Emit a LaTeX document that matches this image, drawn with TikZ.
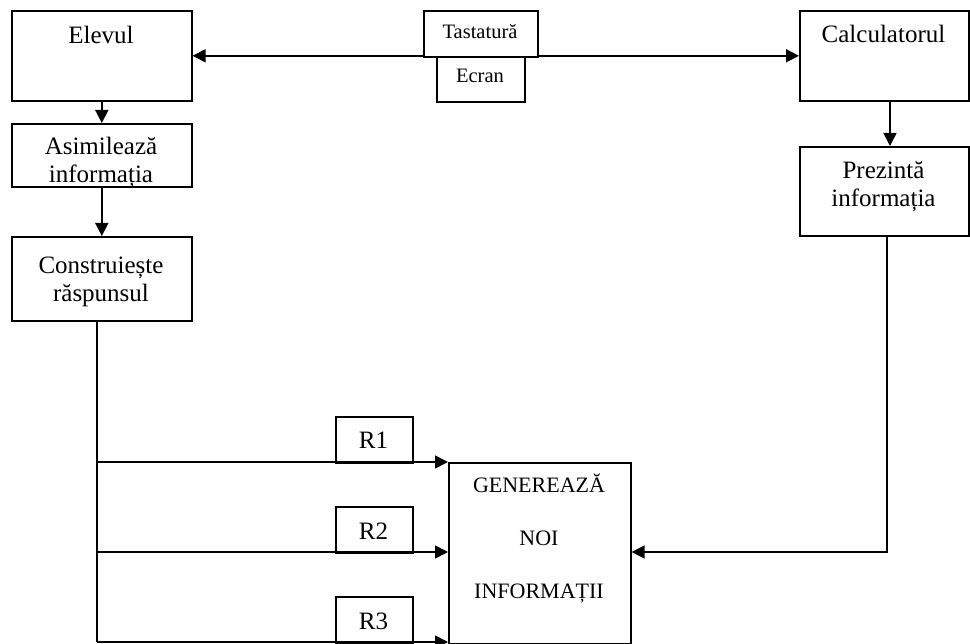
\documentclass[tikz,border=0pt]{standalone}
\usepackage{fontspec}
\setmainfont{Liberation Serif}
\usetikzlibrary{arrows.meta,calc}
\begin{document}
\begin{tikzpicture}[x=1pt,y=-1pt,
  box/.style={draw,line width=1.6pt,rectangle,inner sep=0pt,anchor=north west},
  txt/.style={font=\fontsize{25}{28}\selectfont,inner sep=0pt,anchor=base,align=center},
  smalltxt/.style={font=\fontsize{20.5}{24}\selectfont,inner sep=0pt,anchor=base},
  tip/.style={},
  conn/.style={line width=1.6pt,-{Triangle[length=13pt,width=13pt]}},
  conn2/.style={line width=1.6pt,{Triangle[length=13pt,width=13pt]}-{Triangle[length=13pt,width=13pt]}},
  plain/.style={line width=1.6pt}]
\useasboundingbox (0,0) rectangle (970,644);
% boxes
\node[box,minimum width=180pt,minimum height=90pt] (elev) at (11,10) {};
\node[txt] (elevt) at (101,44) {Elevul};
\node[box,minimum width=180pt,minimum height=63pt] (asim) at (11,123) {};
\node[txt] (asimt) at (101,183) {Asimilează\\informația};
\node[box,minimum width=180pt,minimum height=84pt] (constr) at (11,236) {};
\node[txt] (constrt) at (101,302) {Construiește\\răspunsul};
\node[box,minimum width=169pt,minimum height=90pt] (calc) at (799,10) {};
\node[txt] (calct) at (883.5,43) {Calculatorul};
\node[box,minimum width=169pt,minimum height=89pt] (prez) at (799,146) {};
\node[txt] (prezt) at (883.5,207) {Prezintă\\informația};
\node[box,minimum width=182pt,minimum height=181pt] (gen) at (448,462) {};
\node[txt,font=\fontsize{22}{26}\selectfont] (gent1) at (539,493) {GENEREAZĂ};
\node[txt,font=\fontsize{22}{26}\selectfont] (gent2) at (539,545) {NOI};
\node[txt,font=\fontsize{22}{26}\selectfont] (gent3) at (539,598) {INFORMAȚII};
% top link
\draw[conn2] (elev.east) -- (calc.west);
\node[box,fill=white,minimum width=114pt,minimum height=46pt] (tast) at (423,10) {};
\node[smalltxt] (tastt) at (480,39) {Tastatură};
\node[box,fill=white,minimum width=88pt,minimum height=45pt] (ecran) at (436,56) {};
\node[smalltxt] (ecrant) at (480,83) {Ecran};
% vertical flow
\draw[conn] (elev.south) -- (asim.north);
\draw[conn] (asim.south) -- (constr.north);
\coordinate (cdown) at (890,100);
\draw[conn] (cdown) -- (cdown |- prez.north);
% bus
\coordinate (bus0) at (97,320);
\coordinate (r1y) at (97,462);
\coordinate (r2y) at (97,552);
\coordinate (r3y) at (97,642);
\draw[plain] (bus0) -- (r3y);
\draw[conn] (r1y) -- (r1y -| gen.west);
\draw[conn] (r2y) -- (r2y -| gen.west);
\draw[conn] (r3y) -- (r3y -| gen.west);
\node[box,minimum width=77pt,minimum height=46pt] (r1) at (335,416) {};
\node[txt] (r1t) at (373.5,449) {R1};
\node[box,minimum width=77pt,minimum height=46pt] (r2) at (335,506) {};
\node[txt] (r2t) at (373.5,539) {R2};
\node[box,minimum width=77pt,minimum height=46pt] (r3) at (335,596) {};
\node[txt] (r3t) at (373.5,629) {R3};
% right return
\coordinate (pdown) at (887,235);
\draw[conn] (pdown) |- (r2y -| gen.east);
\end{tikzpicture}
\end{document}
